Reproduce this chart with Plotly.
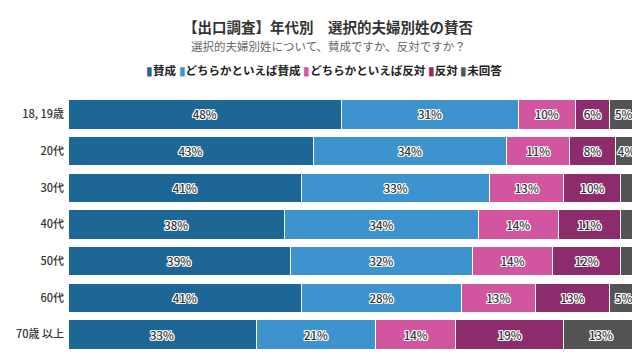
import plotly.graph_objects as go

categories = ["18, 19歳", "20代", "30代", "40代", "50代", "60代", "70歳 以上"]
series_names = ["賛成", "どちらかといえば賛成", "どちらかといえば反対", "反対", "未回答"]
sansei = [48, 43, 41, 38, 39, 41, 33]
dochira_sansei = [31, 34, 33, 34, 32, 28, 21]
dochira_hantai = [10, 11, 13, 14, 14, 13, 14]
hantai = [6, 8, 10, 11, 12, 13, 19]
mikaitou = [5, 4, 3, 3, 3, 5, 13]
colors = ["#1d6796", "#3c93cd", "#d2559f", "#8d2c6c", "#545454"]
title_text = "【出口調査】年代別　選択的夫婦別姓の賛否"
subtitle_text = "選択的夫婦別姓について、賛成ですか、反対ですか？"

series_values = [sansei, dochira_sansei, dochira_hantai, hantai, mikaitou]

FONT = "Noto Sans CJK JP"
halo = ("1px 0 0 #fff, -1px 0 0 #fff, 0 1px 0 #fff, 0 -1px 0 #fff, "
        "1px 1px 0 #fff, -1px -1px 0 #fff, 1px -1px 0 #fff, -1px 1px 0 #fff")

W, H = 640, 360
L, R, T, B = 60, 10, 88, 15


def py2paper(py):
    return (H - B - py) / (H - T - B)


def px2paper(px):
    return (px - L) / (W - L - R)


fig = go.Figure()
for name, vals, col in zip(series_names, series_values, colors):
    fig.add_trace(go.Bar(
        y=categories, x=vals, name=name, orientation="h",
        marker=dict(color=col, line=dict(color="white", width=1)),
        text=[f"{v}%" if v >= 4 else "" for v in vals],
        textposition="inside", insidetextanchor="middle",
        constraintext="none", textangle=0,
        textfont=dict(family=FONT, size=11.5, color="#333333", shadow=halo, weight=500),
        hoverinfo="skip",
    ))

legend_html = "&nbsp;".join(
    f"<span style='color:{c}'>▮</span><b>{n}</b>" for n, c in zip(series_names, colors)
)

fig.update_layout(
    barmode="stack",
    bargap=0.2,
    width=W, height=H,
    margin=dict(l=L, r=R, t=T, b=B, pad=0, autoexpand=False),
    paper_bgcolor="white", plot_bgcolor="white",
    font=dict(family=FONT, color="#333333"),
    xaxis=dict(visible=False, range=[0, 100], fixedrange=True, automargin=False),
    yaxis=dict(autorange="reversed", showgrid=False, showline=False, ticks="",
               automargin=False, ticklabelstandoff=3,
               tickfont=dict(family=FONT, size=11, color="#333333", weight=500)),
    showlegend=False,
    annotations=[
        dict(text=f"<b>{title_text}</b>", x=px2paper(320), xref="paper", xanchor="center",
             y=py2paper(18), yref="paper", yanchor="middle", showarrow=False,
             font=dict(family=FONT, size=14.5, color="#333333")),
        dict(text=subtitle_text, x=px2paper(320), xref="paper", xanchor="center",
             y=py2paper(38), yref="paper", yanchor="middle", showarrow=False,
             font=dict(family=FONT, size=11.5, color="#666666")),
        dict(text=legend_html, x=px2paper(316), xref="paper", xanchor="center",
             y=py2paper(62), yref="paper", yanchor="middle", showarrow=False,
             font=dict(family=FONT, size=11.5, color="#222222")),
    ],
)
fig.write_html("out.html")
